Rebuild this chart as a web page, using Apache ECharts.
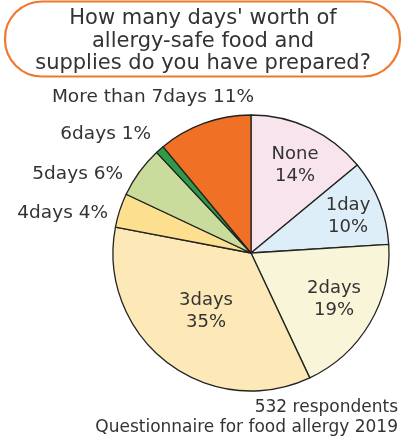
<!DOCTYPE html>
<html><head><meta charset="utf-8">
<script src="https://cdn.jsdelivr.net/npm/echarts@6/dist/echarts.min.js"></script>
<style>html,body{margin:0;padding:0;background:#fff}#c{width:405px;height:437px}</style>
</head><body><div id="c"></div>
<script>
var categories = ['None', '1day', '2days', '3days', '4days', '5days', '6days', 'More than 7days'];
var values = [14, 10, 19, 35, 4, 6, 1, 11];
var colors = ['#f8e4ec', '#ddeef8', '#f8f5d8', '#fde9b8', '#fde08f', '#c9dc9b', '#2f9a48', '#f07026'];
var titleText = "How many days' worth of\nallergy-safe food and\nsupplies do you have prepared?";
var footer1 = '532 respondents';
var footer2 = 'Questionnaire for food allergy 2019';

var FONT = 'DejaVu Sans';
// label anchor placements (layout only)
var labelPos = [
  {x: 295, y: 165, align: 'center', inside: true},
  {x: 348, y: 216, align: 'center', inside: true},
  {x: 334, y: 299, align: 'center', inside: true},
  {x: 206, y: 311, align: 'center', inside: true},
  {x: 108, y: 213, align: 'right'},
  {x: 123, y: 174, align: 'right'},
  {x: 151, y: 134, align: 'right'},
  {x: 254, y: 97, align: 'right'}
];

var data = categories.map(function (c, i) {
  return {
    name: c, value: values[i],
    itemStyle: {color: colors[i]},
    label: {
      formatter: labelPos[i].inside ? '{b}\n{c}%' : '{b} {c}%',
      position: labelPos[i].inside ? 'inside' : 'outside',
      align: labelPos[i].align,
      fontSize: labelPos[i].inside ? 18 : 18.5
    }
  };
});

var chart = echarts.init(document.getElementById('c'), null, {renderer: 'canvas'});
chart.setOption({
  animation: false,
  graphic: [
    {type: 'rect', shape: {x: 5, y: 1.5, width: 395, height: 75, r: 37},
     style: {fill: '#fff', stroke: '#ee7a30', lineWidth: 2.2}},
    {type: 'text', x: 203, y: 41.5,
     style: {text: titleText, fill: '#333', font: '21px "' + FONT + '"', align: 'center', verticalAlign: 'middle', lineHeight: 22.5}},
    {type: 'text', x: 398, y: 408,
     style: {text: footer1, fill: '#333', font: '17px "' + FONT + '"', align: 'right', verticalAlign: 'middle'}},
    {type: 'text', x: 398, y: 428,
     style: {text: footer2, fill: '#333', font: '17px "' + FONT + '"', align: 'right', verticalAlign: 'middle'}}
  ],
  series: [{
    type: 'pie',
    center: [251, 253],
    radius: 138,
    startAngle: 90,
    clockwise: true,
    data: data,
    itemStyle: {borderColor: '#222', borderWidth: 1.3},
    label: {color: '#333', fontFamily: FONT, fontSize: 18, lineHeight: 22, overflow: 'none', width: 300},
    labelLine: {show: false},
    labelLayout: function (p) {
      var lp = labelPos[p.dataIndex];
      return {x: lp.x, y: lp.y, align: lp.align, verticalAlign: 'middle'};
    },
    emphasis: {disabled: true}
  }]
});
</script></body></html>
